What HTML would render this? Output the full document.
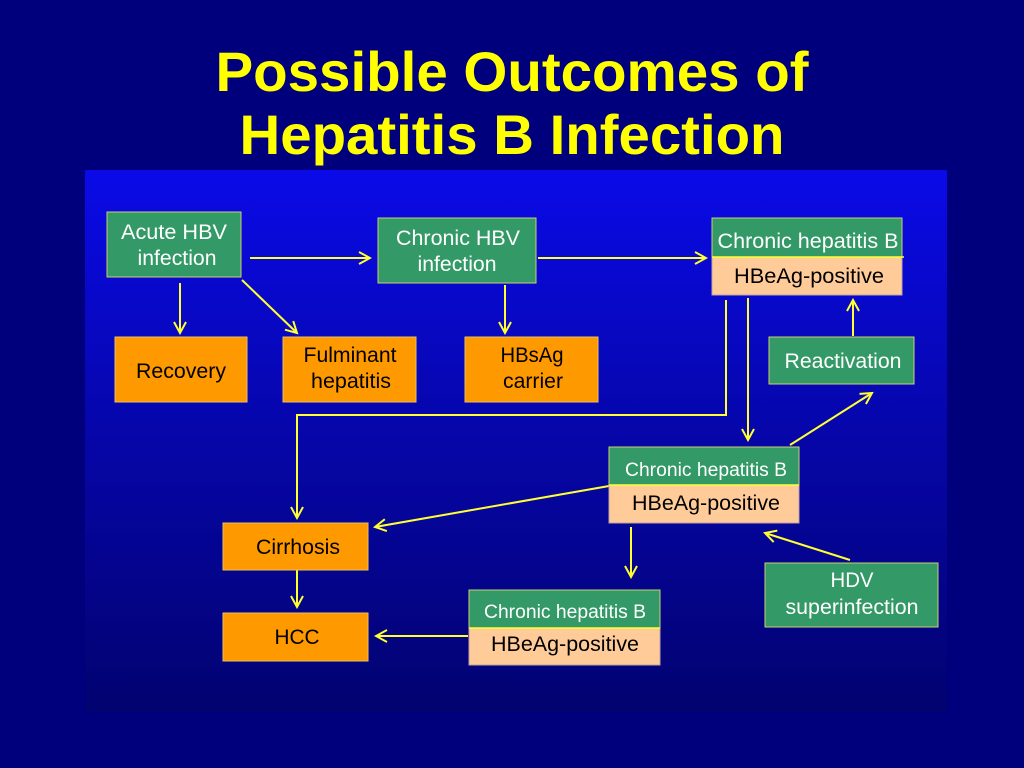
<!DOCTYPE html>
<html><head><meta charset="utf-8"><style>
html,body{margin:0;padding:0;background:#000080;}
svg{display:block}
text{font-family:"Liberation Sans",sans-serif;}
.t{font-family:"Liberation Sans",sans-serif;font-weight:bold;font-size:56px;fill:#ffff00;}
.w{fill:#fff;font-size:21px;}
.k{fill:#000;font-size:21px;}
.g{fill:#339966;stroke:#c8d070;stroke-width:1}
.o{fill:#ff9900;stroke:#e8c060;stroke-width:1}
.p{fill:#ffcc99;stroke:#c0a0a0;stroke-width:1}
.a{stroke:#ffff33;stroke-width:2;fill:none}
</style></head><body>
<svg width="1024" height="768" viewBox="0 0 1024 768">
<defs>
<linearGradient id="bg" x1="0" y1="0" x2="0" y2="1">
<stop offset="0" stop-color="#0a0ae8"/><stop offset="0.5" stop-color="#0606a8"/><stop offset="1" stop-color="#020270"/>
</linearGradient>
<marker id="m" markerWidth="14" markerHeight="14" refX="12" refY="7" orient="auto" markerUnits="userSpaceOnUse">
<path d="M1,1 L12,7 L1,13" stroke="#ffff33" stroke-width="2" fill="none"/>
</marker>
</defs>
<rect width="1024" height="768" fill="#00007c"/>
<rect x="85" y="170" width="862" height="542" fill="url(#bg)"/>
<text class="t" x="512" y="91" text-anchor="middle" textLength="593" lengthAdjust="spacingAndGlyphs">Possible Outcomes of</text>
<text class="t" x="512" y="154" text-anchor="middle" textLength="545" lengthAdjust="spacingAndGlyphs">Hepatitis B Infection</text>

<g class="a">
<line x1="250" y1="258" x2="370" y2="258" marker-end="url(#m)"/>
<line x1="538" y1="258" x2="706" y2="258" marker-end="url(#m)"/>
<line x1="180" y1="283" x2="180" y2="333" marker-end="url(#m)"/>
<line x1="242" y1="280" x2="297" y2="333" marker-end="url(#m)"/>
<line x1="505" y1="285" x2="505" y2="333" marker-end="url(#m)"/>
<polyline points="726,300 726,415 297,415 297,518" marker-end="url(#m)"/>
<line x1="748" y1="298" x2="748" y2="440" marker-end="url(#m)"/>
<line x1="790" y1="445" x2="872" y2="393" marker-end="url(#m)"/>
<line x1="853" y1="336" x2="853" y2="300" marker-end="url(#m)"/>
<line x1="609" y1="486" x2="375" y2="527" marker-end="url(#m)"/>
<line x1="631" y1="527" x2="631" y2="577" marker-end="url(#m)"/>
<line x1="850" y1="560" x2="765" y2="533" marker-end="url(#m)"/>
<line x1="297" y1="570" x2="297" y2="607" marker-end="url(#m)"/>
<line x1="468" y1="636" x2="376" y2="636" marker-end="url(#m)"/>
</g>

<rect class="g" x="107" y="212" width="134" height="65"/>
<text class="w" x="174" y="239" text-anchor="middle" textLength="106" lengthAdjust="spacingAndGlyphs">Acute HBV</text>
<text class="w" x="177" y="265" text-anchor="middle" textLength="79" lengthAdjust="spacingAndGlyphs">infection</text>

<rect class="g" x="378" y="218" width="158" height="65"/>
<text class="w" x="458" y="245" text-anchor="middle" textLength="124" lengthAdjust="spacingAndGlyphs">Chronic HBV</text>
<text class="w" x="457" y="271" text-anchor="middle" textLength="79" lengthAdjust="spacingAndGlyphs">infection</text>

<rect class="p" x="712" y="257" width="190" height="38"/>
<rect class="g" x="712" y="218" width="190" height="39"/>
<line x1="712" y1="257" x2="904" y2="257" stroke="#ffff33" stroke-width="1.5"/>
<text class="w" x="808" y="248" text-anchor="middle" textLength="181" lengthAdjust="spacingAndGlyphs">Chronic hepatitis B</text>
<text class="k" x="809" y="283" text-anchor="middle" textLength="150" lengthAdjust="spacingAndGlyphs">HBeAg-positive</text>

<rect class="o" x="115" y="337" width="132" height="65"/>
<text class="k" x="181" y="378" text-anchor="middle" textLength="90" lengthAdjust="spacingAndGlyphs">Recovery</text>
<rect class="o" x="283" y="337" width="133" height="65"/>
<text class="k" x="350" y="362" text-anchor="middle" textLength="93" lengthAdjust="spacingAndGlyphs">Fulminant</text>
<text class="k" x="351" y="388" text-anchor="middle" textLength="80" lengthAdjust="spacingAndGlyphs">hepatitis</text>
<rect class="o" x="465" y="337" width="133" height="65"/>
<text class="k" x="532" y="362" text-anchor="middle" textLength="63" lengthAdjust="spacingAndGlyphs">HBsAg</text>
<text class="k" x="533" y="388" text-anchor="middle" textLength="60" lengthAdjust="spacingAndGlyphs">carrier</text>

<rect class="g" x="769" y="337" width="145" height="47"/>
<text class="w" x="843" y="368" text-anchor="middle" textLength="117" lengthAdjust="spacingAndGlyphs">Reactivation</text>

<rect class="p" x="609" y="485" width="190" height="38"/>
<rect class="g" x="609" y="447" width="190" height="38"/>
<line x1="609" y1="485" x2="799" y2="485" stroke="#ffff33" stroke-width="1.5"/>
<text class="w" x="706" y="476" text-anchor="middle" style="font-size:19px" textLength="162" lengthAdjust="spacingAndGlyphs">Chronic hepatitis B</text>
<text class="k" x="706" y="510" text-anchor="middle" textLength="148" lengthAdjust="spacingAndGlyphs">HBeAg-positive</text>

<rect class="o" x="223" y="523" width="145" height="47"/>
<text class="k" x="298" y="554" text-anchor="middle" textLength="84" lengthAdjust="spacingAndGlyphs">Cirrhosis</text>
<rect class="o" x="223" y="613" width="145" height="48"/>
<text class="k" x="297" y="644" text-anchor="middle" textLength="45" lengthAdjust="spacingAndGlyphs">HCC</text>

<rect class="p" x="469" y="628" width="191" height="37"/>
<rect class="g" x="469" y="590" width="191" height="38"/>
<line x1="469" y1="628" x2="660" y2="628" stroke="#ffff33" stroke-width="1.5"/>
<text class="w" x="565" y="618" text-anchor="middle" style="font-size:19px" textLength="162" lengthAdjust="spacingAndGlyphs">Chronic hepatitis B</text>
<text class="k" x="565" y="651" text-anchor="middle" textLength="148" lengthAdjust="spacingAndGlyphs">HBeAg-positive</text>

<rect class="g" x="765" y="563" width="173" height="64"/>
<text class="w" x="852" y="587" text-anchor="middle" textLength="43" lengthAdjust="spacingAndGlyphs">HDV</text>
<text class="w" x="852" y="614" text-anchor="middle" textLength="133" lengthAdjust="spacingAndGlyphs">superinfection</text>
</svg>
</body></html>
